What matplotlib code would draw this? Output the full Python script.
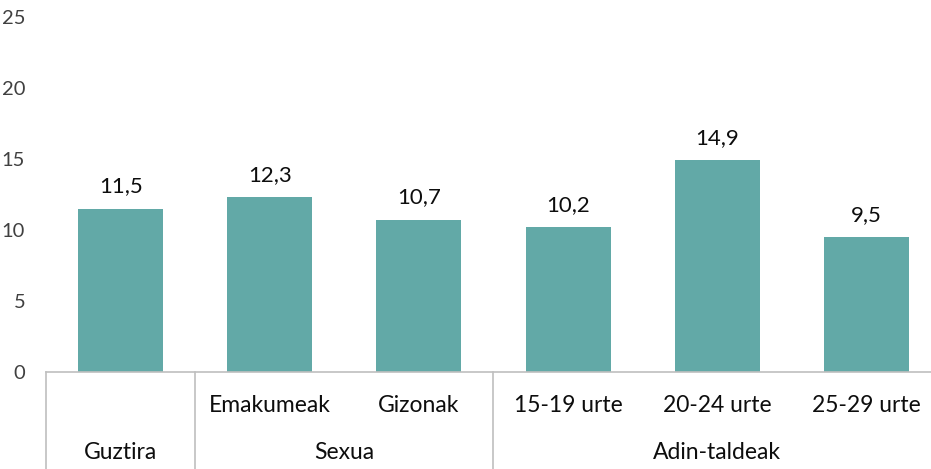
import matplotlib
matplotlib.use("Agg")
import matplotlib.pyplot as plt
import matplotlib.transforms as mtransforms

plt.rcParams['font.family'] = ['Lato', 'DejaVu Sans']

# data
categories = ["Guztira", "Emakumeak", "Gizonak", "15-19 urte", "20-24 urte", "25-29 urte"]
values = [11.5, 12.3, 10.7, 10.2, 14.9, 9.5]
row1_labels = ["", "Emakumeak", "Gizonak", "15-19 urte", "20-24 urte", "25-29 urte"]
groups = ["Guztira", "Sexua", "Adin-taldeak"]
group_spans = [(0, 0), (1, 2), (3, 5)]
yticks = [0, 5, 10, 15, 20, 25]

bar_color = "#62a9a7"
W, H = 931, 469
fig = plt.figure(figsize=(W / 100, H / 100), dpi=100)
ax_l, ax_r, ax_t, ax_b = 46, 941, 17, 372
ax = fig.add_axes([ax_l / W, (H - ax_b) / H, (ax_r - ax_l) / W, (ax_b - ax_t) / H])

x = list(range(len(categories)))
ax.bar(x, values, width=0.57, color=bar_color, zorder=2)
for xi, v in zip(x, values):
    ax.annotate(f"{v:.1f}".replace(".", ","), (xi, v), xytext=(0, 9),
                textcoords="offset points", ha="center", va="bottom",
                fontsize=16, color="#0d0d0d")

ax.set_xlim(-0.5, len(categories) - 0.5)
ax.set_ylim(0, 25)
ax.set_yticks(yticks)
ax.set_yticklabels([str(t) for t in yticks], fontsize=14.5, color="#404040")
ax.tick_params(axis="y", length=0, pad=15)
ax.set_xticks([])
for s in ["top", "right", "left"]:
    ax.spines[s].set_visible(False)
ax.spines["bottom"].set_color("#bfbfbf")
ax.spines["bottom"].set_linewidth(1.2)

trans = mtransforms.blended_transform_factory(ax.transData, ax.transAxes)
axh = ax_b - ax_t
bottom = -(H - ax_b) / axh
for sep in [-0.5, 0.5, 2.5, 5.5]:
    ax.plot([sep, sep], [0, bottom], transform=trans, color="#bfbfbf",
            lw=1.2, clip_on=False)

for xi, lab in zip(x, row1_labels):
    ax.text(xi, -33 / axh, lab, transform=trans, ha="center", va="center",
            fontsize=16.5, color="#0d0d0d")
for g, (a, b) in zip(groups, group_spans):
    ax.text((a + b) / 2, -80 / axh, g, transform=trans, ha="center", va="center",
            fontsize=16.5, color="#0d0d0d")

fig.savefig("out.png", dpi=100)
